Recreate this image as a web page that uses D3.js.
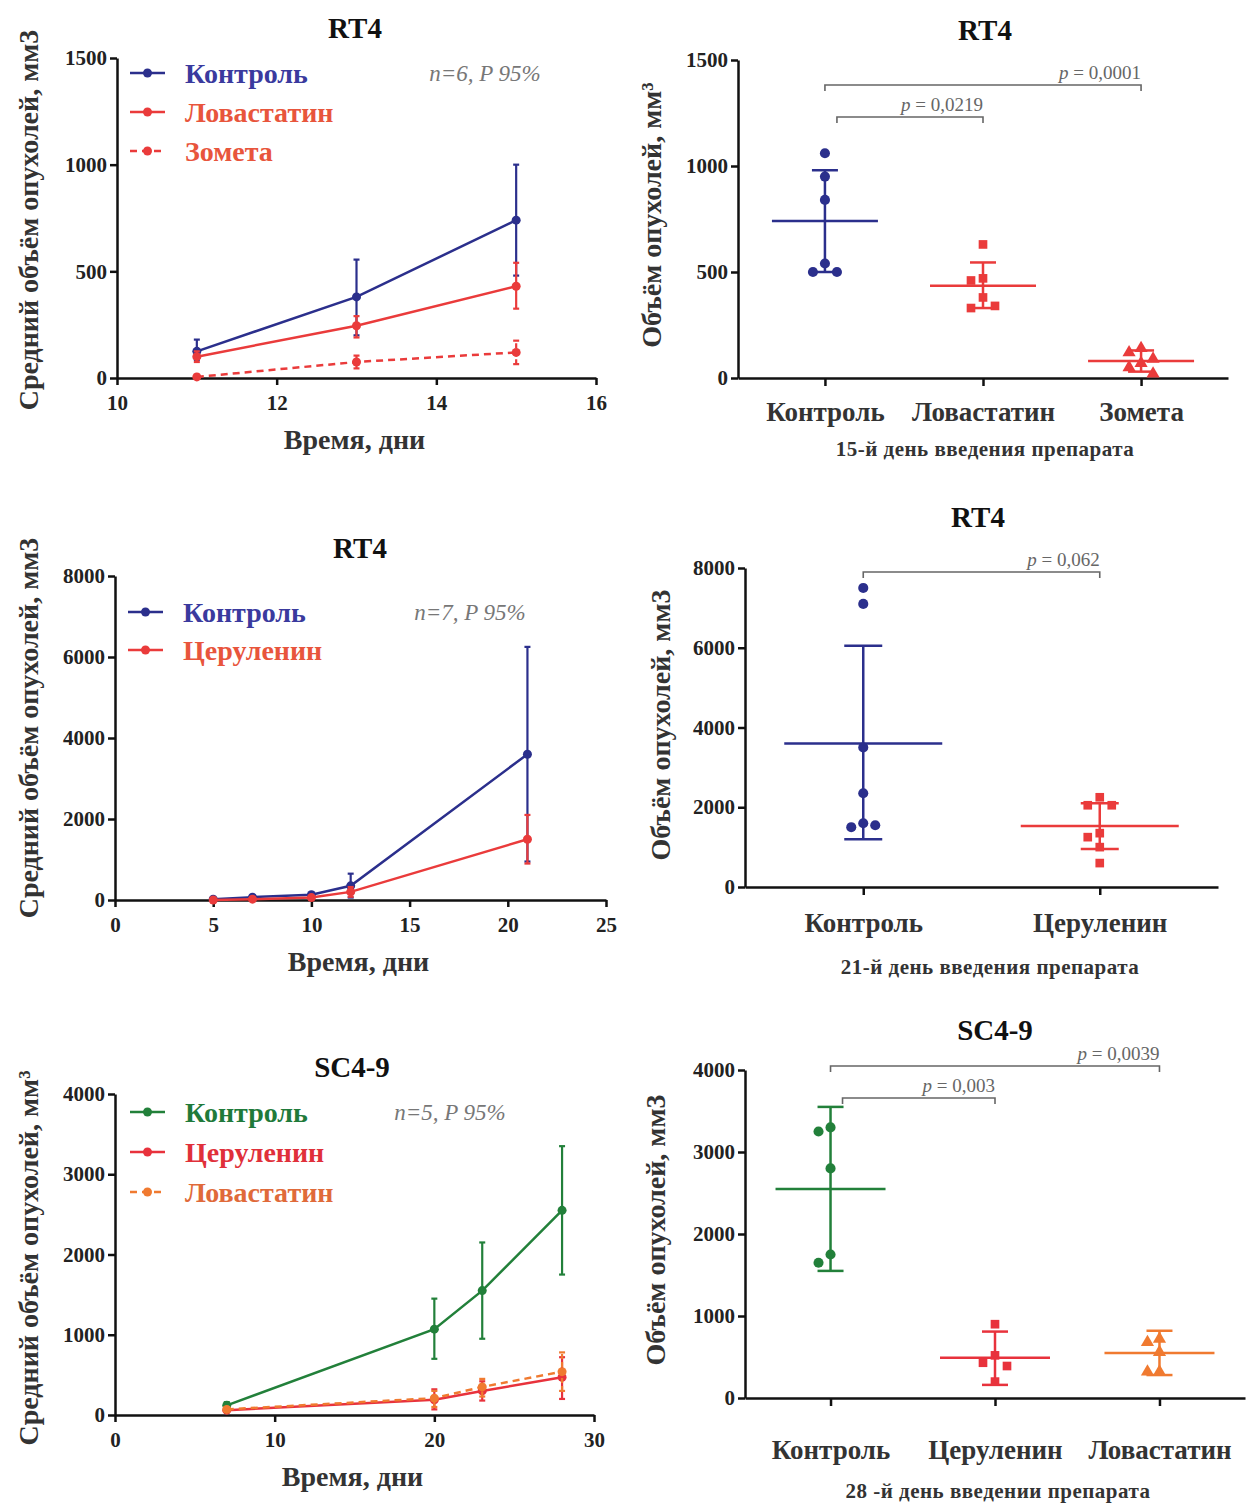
<!DOCTYPE html>
<html>
<head>
<meta charset="utf-8">
<title>Объём опухолей</title>
<script src="https://d3js.org/d3.v7.min.js"></script>
<style>
    body { margin: 0; background: #fff; }
    text { font-family: "Liberation Serif", "DejaVu Serif", serif; }
    .axis path, .axis line { stroke: #111; stroke-width: 2.5; }
    .axis text { font-size: 21px; font-weight: bold; fill: #222; }
    .cat .tick text { font-size: 27px; fill: #333; }
    .title { font-size: 29px; font-weight: bold; fill: #111; }
    .lab { font-size: 28px; font-weight: bold; fill: #333; }
    .sub { font-size: 21px; font-weight: bold; fill: #333; letter-spacing: 0.5px; }
    .leg { font-size: 28px; font-weight: bold; }
    .note { font-size: 23px; font-style: italic; fill: #777; }
    .pval { font-size: 19px; fill: #666; }
    .bracket { fill: none; stroke: #666; stroke-width: 1.6; }
</style>
</head>
<body>
<svg id="chart" width="1256" height="1504"></svg>
<script>
// ---- data ----
// top left: RT4, lovastatin / zometa
var p1Days = [11, 13, 15];
var p1Control = [125, 380, 740], p1ControlLo = [85, 200, 480], p1ControlHi = [180, 555, 1000];
var p1Lova = [100, 245, 430], p1LovaLo = [75, 190, 325], p1LovaHi = [125, 290, 540];
var p1Zometa = [5, 75, 120], p1ZometaLo = [0, 45, 65], p1ZometaHi = [15, 105, 175];

// top right: day 15
var p2Cats = ['Контроль', 'Ловастатин', 'Зомета'];
var p2Control = [1060, 950, 840, 540, 500, 500];
var p2Lova = [630, 470, 460, 380, 330, 340];
var p2Zometa = [140, 120, 90, 70, 50, 20];
var p2Mean = [740, 435, 80], p2Lo = [500, 330, 30], p2Hi = [980, 545, 130];

// middle left: RT4, cerulenin
var p3Days = [5, 7, 10, 12, 21];
var p3Control = [20, 70, 130, 350, 3600], p3ControlLo = [0, 30, 80, 60, 950], p3ControlHi = [40, 110, 180, 650, 6250];
var p3Ceru = [0, 20, 60, 200, 1500], p3CeruLo = [0, 0, 20, 80, 900], p3CeruHi = [10, 40, 100, 320, 2100];

// middle right: day 21
var p4Cats = ['Контроль', 'Церуленин'];
var p4Control = [7500, 7100, 3500, 2350, 1600, 1500, 1550];
var p4Ceru = [2250, 2050, 2050, 1350, 1250, 1000, 600];
var p4Mean = [3600, 1530], p4Lo = [1200, 950], p4Hi = [6050, 2100];

// bottom left: SC4-9
var p5Days = [7, 20, 23, 28];
var p5Control = [120, 1070, 1550, 2550], p5ControlLo = [80, 700, 950, 1750], p5ControlHi = [160, 1450, 2150, 3350];
var p5Ceru = [60, 190, 300, 470], p5CeruLo = [40, 70, 180, 200], p5CeruHi = [80, 320, 420, 720];
var p5Lova = [70, 210, 350, 540], p5LovaLo = [50, 100, 230, 300], p5LovaHi = [90, 300, 450, 780];

// bottom right: day 28
var p6Cats = ['Контроль', 'Церуленин', 'Ловастатин'];
var p6Control = [3300, 3250, 2800, 1750, 1650];
var p6Ceru = [900, 520, 430, 390, 200];
var p6Lova = [720, 680, 560, 320, 320];
var p6Mean = [2550, 490, 550], p6Lo = [1550, 160, 280], p6Hi = [3550, 810, 820];

var BLUE = '#2b2f8c', RED = '#ea3b3b', GREEN = '#22803a', ORANGE = '#f07a30';

var svg = d3.select('#chart');
var fmt = d3.format('d');

function zip(xs, ys, lo, hi) {
    return xs.map(function(x, i) { return {x: x, y: ys[i], lo: lo[i], hi: hi[i]}; });
}

function yLabel(text, x, y) {
    svg.append('text').attr('class', 'lab')
        .attr('transform', 'translate(' + x + ',' + y + ') rotate(-90)')
        .attr('text-anchor', 'middle').attr('dy', '0.35em')
        .text(text);
}

// d3 puts sans-serif on the axis group, take it off again
function serif(sel) {
    sel.attr('font-family', 'Liberation Serif, serif').attr('font-size', null);
}

function linePanel(c) {
    var x = d3.scaleLinear().domain(c.xDomain).range([c.x0, c.x1]);
    var y = d3.scaleLinear().domain(c.yDomain).range([c.y1, c.y0]);
    var g = svg.append('g');

    g.append('g').attr('class', 'axis')
        .attr('transform', 'translate(0,' + c.y1 + ')')
        .call(d3.axisBottom(x).tickValues(c.xTicks).tickFormat(fmt).tickSize(7).tickSizeOuter(0).tickPadding(10))
        .call(serif);
    g.append('g').attr('class', 'axis')
        .attr('transform', 'translate(' + c.x0 + ',0)')
        .call(d3.axisLeft(y).tickValues(c.yTicks).tickFormat(fmt).tickSize(7).tickSizeOuter(0).tickPadding(3))
        .call(serif);

    var line = d3.line().x(function(d) { return x(d.x); }).y(function(d) { return y(d.y); });

    c.series.forEach(function(s) {
        var sg = g.append('g');
        sg.append('path').datum(s.data)
            .attr('d', line).attr('fill', 'none')
            .attr('stroke', s.color).attr('stroke-width', 2.5)
            .attr('stroke-dasharray', s.dash ? '7,5' : null);
        var eb = sg.selectAll('g.eb').data(s.data).enter().append('g')
            .attr('stroke', s.color).attr('stroke-width', 2.2);
        eb.append('line')
            .attr('x1', function(d) { return x(d.x); }).attr('x2', function(d) { return x(d.x); })
            .attr('y1', function(d) { return y(d.lo); }).attr('y2', function(d) { return y(d.hi); })
            .attr('stroke-dasharray', s.dash ? '5,3' : null);
        [ 'lo', 'hi' ].forEach(function(k) {
            eb.append('line')
                .attr('x1', function(d) { return x(d.x) - 3; }).attr('x2', function(d) { return x(d.x) + 3; })
                .attr('y1', function(d) { return y(d[k]); }).attr('y2', function(d) { return y(d[k]); });
        });
        sg.selectAll('circle').data(s.data).enter().append('circle')
            .attr('cx', function(d) { return x(d.x); })
            .attr('cy', function(d) { return y(d.y); })
            .attr('r', 4.5).attr('fill', s.color);
    });

    // legend
    c.series.forEach(function(s, i) {
        var ly = c.legY + i * c.legGap;
        g.append('line').attr('x1', c.legX).attr('x2', c.legX + 35)
            .attr('y1', ly).attr('y2', ly)
            .attr('stroke', s.color).attr('stroke-width', 2.5)
            .attr('stroke-dasharray', s.dash ? '7,5' : null);
        g.append('circle').attr('cx', c.legX + 17.5).attr('cy', ly).attr('r', 4.5).attr('fill', s.color);
        g.append('text').attr('class', 'leg').attr('x', c.legX + 55).attr('y', ly)
            .attr('dy', '0.35em').attr('fill', s.text).text(s.name);
    });

    g.append('text').attr('class', 'note').attr('x', c.noteX).attr('y', c.legY)
        .attr('dy', '0.35em').attr('text-anchor', 'middle').text(c.note);
    g.append('text').attr('class', 'title').attr('x', c.titleX).attr('y', c.titleY)
        .attr('text-anchor', 'middle').text(c.title);
    g.append('text').attr('class', 'lab').attr('x', (c.x0 + c.x1) / 2 - 2).attr('y', c.y1 + 71)
        .attr('text-anchor', 'middle').text('Время, дни');
    yLabel(c.ylabel, c.ylabX, c.ylabY);
}

function swarm(vals, y, cx, d) {
    var placed = [];
    return vals.map(function(v) {
        var py = y(v);
        var cands = [0, -d, d, -2 * d, 2 * d, -3 * d, 3 * d];
        var ox = cands.find(function(o) {
            return placed.every(function(p) { return Math.hypot(p[0] - o, p[1] - py) >= d; });
        });
        if (ox === undefined) ox = 0;
        placed.push([ox, py]);
        return [cx + ox, py];
    });
}

function scatterPanel(c) {
    var x = d3.scalePoint().domain(c.cats).range([c.x0, c.x1]).padding(c.pad);
    var y = d3.scaleLinear().domain(c.yDomain).range([c.y1, c.y0]);
    var g = svg.append('g');

    g.append('g').attr('class', 'axis cat')
        .attr('transform', 'translate(0,' + c.y1 + ')')
        .call(d3.axisBottom(x).tickSize(8).tickSizeOuter(0).tickPadding(c.catPad))
        .call(serif);
    g.append('g').attr('class', 'axis')
        .attr('transform', 'translate(' + c.x0 + ',0)')
        .call(d3.axisLeft(y).tickValues(c.yTicks).tickFormat(fmt).tickSize(7).tickSizeOuter(0).tickPadding(3))
        .call(serif);

    c.groups.forEach(function(s, i) {
        var cx = x(c.cats[i]);
        var gg = g.append('g').attr('stroke', s.color).attr('stroke-width', 2.5);
        gg.append('line').attr('x1', cx - c.meanW).attr('x2', cx + c.meanW)
            .attr('y1', y(c.mean[i])).attr('y2', y(c.mean[i]));
        gg.append('line').attr('x1', cx).attr('x2', cx)
            .attr('y1', y(c.lo[i])).attr('y2', y(c.hi[i]));
        [c.lo[i], c.hi[i]].forEach(function(v) {
            gg.append('line').attr('x1', cx - c.capW).attr('x2', cx + c.capW)
                .attr('y1', y(v)).attr('y2', y(v));
        });
        var pts = swarm(s.vals, y, cx, 12);
        var sym = d3.symbol().type(s.shape).size(s.shape === d3.symbolCircle ? 80 : 75);
        g.selectAll(null).data(pts).enter().append('path')
            .attr('d', sym)
            .attr('transform', function(p) { return 'translate(' + p[0] + ',' + p[1] + ')'; })
            .attr('fill', s.color);
    });

    c.brackets.forEach(function(b) {
        var xa = x(c.cats[b.from]) + b.inset, xb = x(c.cats[b.to]);
        g.append('path').attr('class', 'bracket')
            .attr('d', 'M' + xa + ',' + (b.y + 6) + 'V' + b.y + 'H' + xb + 'V' + (b.y + 6));
        var t = g.append('text').attr('class', 'pval').attr('x', xb).attr('y', b.y - 6)
            .attr('text-anchor', 'end');
        t.append('tspan').attr('font-style', 'italic').text('p');
        t.append('tspan').text(' = ' + b.text);
    });

    g.append('text').attr('class', 'title').attr('x', c.titleX).attr('y', c.titleY)
        .attr('text-anchor', 'middle').text(c.title);
    g.append('text').attr('class', 'sub').attr('x', c.subX).attr('y', c.subY)
        .attr('text-anchor', 'middle').text(c.sub);
    yLabel(c.ylabel, c.ylabX, c.ylabY);
}

// ---- panels ----
linePanel({
    title: 'RT4', titleX: 355, titleY: 38,
    x0: 117, x1: 596, y0: 58, y1: 378,
    xDomain: [10, 16], xTicks: [10, 12, 14, 16],
    yDomain: [0, 1500], yTicks: [0, 500, 1000, 1500],
    ylabel: 'Средний объём опухолей, мм3', ylabX: 28, ylabY: 220,
    legX: 130, legY: 73, legGap: 39, noteX: 485, note: 'n=6, P 95%',
    series: [
        {name: 'Контроль', color: BLUE, text: '#3a3a9e', data: zip(p1Days, p1Control, p1ControlLo, p1ControlHi)},
        {name: 'Ловастатин', color: RED, text: '#e8553c', data: zip(p1Days, p1Lova, p1LovaLo, p1LovaHi)},
        {name: 'Зомета', color: RED, text: '#e8553c', dash: true, data: zip(p1Days, p1Zometa, p1ZometaLo, p1ZometaHi)}
    ]
});

scatterPanel({
    title: 'RT4', titleX: 985, titleY: 40,
    x0: 738, x1: 1228, y0: 60, y1: 378, pad: 0.55, catPad: 16,
    cats: p2Cats, yDomain: [0, 1500], yTicks: [0, 500, 1000, 1500],
    mean: p2Mean, lo: p2Lo, hi: p2Hi, meanW: 53, capW: 13,
    groups: [
        {vals: p2Control, color: BLUE, shape: d3.symbolCircle},
        {vals: p2Lova, color: RED, shape: d3.symbolSquare},
        {vals: p2Zometa, color: RED, shape: d3.symbolTriangle}
    ],
    brackets: [
        {from: 0, to: 2, y: 85, inset: 0, text: '0,0001'},
        {from: 0, to: 1, y: 117, inset: 12, text: '0,0219'}
    ],
    sub: '15-й день введения препарата', subX: 985, subY: 456,
    ylabel: 'Объём опухолей, мм³', ylabX: 651, ylabY: 215
});

linePanel({
    title: 'RT4', titleX: 360, titleY: 558,
    x0: 115, x1: 606, y0: 576, y1: 900,
    xDomain: [0, 25], xTicks: [0, 5, 10, 15, 20, 25],
    yDomain: [0, 8000], yTicks: [0, 2000, 4000, 6000, 8000],
    ylabel: 'Средний объём опухолей, мм3', ylabX: 28, ylabY: 728,
    legX: 128, legY: 612, legGap: 38, noteX: 470, note: 'n=7, P 95%',
    series: [
        {name: 'Контроль', color: BLUE, text: '#3a3a9e', data: zip(p3Days, p3Control, p3ControlLo, p3ControlHi)},
        {name: 'Церуленин', color: RED, text: '#e8553c', data: zip(p3Days, p3Ceru, p3CeruLo, p3CeruHi)}
    ]
});

scatterPanel({
    title: 'RT4', titleX: 978, titleY: 527,
    x0: 745, x1: 1218, y0: 568, y1: 887, pad: 0.5, catPad: 18,
    cats: p4Cats, yDomain: [0, 8000], yTicks: [0, 2000, 4000, 6000, 8000],
    mean: p4Mean, lo: p4Lo, hi: p4Hi, meanW: 79, capW: 19,
    groups: [
        {vals: p4Control, color: BLUE, shape: d3.symbolCircle},
        {vals: p4Ceru, color: RED, shape: d3.symbolSquare}
    ],
    brackets: [
        {from: 0, to: 1, y: 572, inset: 0, text: '0,062'}
    ],
    sub: '21-й день введения препарата', subX: 990, subY: 974,
    ylabel: 'Объём опухолей, мм3', ylabX: 660, ylabY: 725
});

linePanel({
    title: 'SC4-9', titleX: 352, titleY: 1077,
    x0: 115, x1: 594, y0: 1094, y1: 1415,
    xDomain: [0, 30], xTicks: [0, 10, 20, 30],
    yDomain: [0, 4000], yTicks: [0, 1000, 2000, 3000, 4000],
    ylabel: 'Средний объём опухолей, мм³', ylabX: 28, ylabY: 1258,
    legX: 130, legY: 1112, legGap: 40, noteX: 450, note: 'n=5, P 95%',
    series: [
        {name: 'Контроль', color: GREEN, text: '#1f7a3a', data: zip(p5Days, p5Control, p5ControlLo, p5ControlHi)},
        {name: 'Церуленин', color: '#e8323c', text: '#e0303a', data: zip(p5Days, p5Ceru, p5CeruLo, p5CeruHi)},
        {name: 'Ловастатин', color: ORANGE, text: '#e06a3a', dash: true, data: zip(p5Days, p5Lova, p5LovaLo, p5LovaHi)}
    ]
});

scatterPanel({
    title: 'SC4-9', titleX: 995, titleY: 1040,
    x0: 745, x1: 1245, y0: 1070, y1: 1398, pad: 0.52, catPad: 34,
    cats: p6Cats, yDomain: [0, 4000], yTicks: [0, 1000, 2000, 3000, 4000],
    mean: p6Mean, lo: p6Lo, hi: p6Hi, meanW: 55, capW: 13,
    groups: [
        {vals: p6Control, color: GREEN, shape: d3.symbolCircle},
        {vals: p6Ceru, color: '#e8323c', shape: d3.symbolSquare},
        {vals: p6Lova, color: ORANGE, shape: d3.symbolTriangle}
    ],
    brackets: [
        {from: 0, to: 2, y: 1066, inset: 0, text: '0,0039'},
        {from: 0, to: 1, y: 1098, inset: 12, text: '0,003'}
    ],
    sub: '28 -й день введении препарата', subX: 998, subY: 1498,
    ylabel: 'Объём опухолей, мм3', ylabX: 655, ylabY: 1230
});
</script>
</body>
</html>
